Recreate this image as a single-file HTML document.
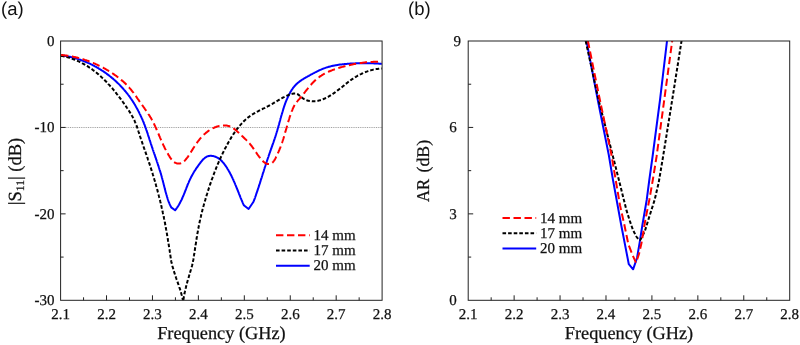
<!DOCTYPE html>
<html><head><meta charset="utf-8"><style>
html,body{margin:0;padding:0;background:#fff;}
body{width:800px;height:345px;overflow:hidden;}
svg{display:block;will-change:transform;text-rendering:geometricPrecision;}
.t{font-family:"Liberation Serif",serif;fill:#111;stroke:#111;stroke-width:0.25px;}
.s{font-family:"Liberation Sans",sans-serif;fill:#111;}
</style></head><body>
<svg width="800" height="345" viewBox="0 0 800 345">
<defs>
<clipPath id="ca"><rect x="60.6" y="41" width="321.5" height="259.3"/></clipPath>
<clipPath id="cb"><rect x="468.2" y="41" width="321.5" height="259.3"/></clipPath>
</defs>
<text class="s" x="1" y="15" font-size="18.5">(a)</text>
<text class="s" x="408" y="15" font-size="18.5">(b)</text>
<line x1="61" y1="127.5" x2="382.1" y2="127.5" stroke="#a2a2a2" stroke-width="1" stroke-dasharray="1 0.8"/>
<g clip-path="url(#ca)" fill="none" stroke-width="2" stroke-linejoin="round">
<path d="M61.0,55.3 61.7,55.4 62.4,55.5 63.1,55.6 63.8,55.7 64.5,55.8 65.2,55.9 65.9,56.0 66.6,56.1 67.3,56.3 68.0,56.4 68.6,56.6 69.3,56.7 70.0,56.8 70.7,57.0 71.4,57.2 72.1,57.3 72.8,57.5 73.4,57.7 74.1,57.9 74.8,58.1 75.5,58.2 76.1,58.4 76.8,58.7 77.5,58.9 78.2,59.1 78.8,59.3 79.5,59.5 80.2,59.7 80.8,60.0 81.5,60.2 82.1,60.5 82.8,60.7 83.5,61.0 84.1,61.2 84.8,61.5 85.4,61.7 86.1,62.0 86.7,62.3 87.4,62.6 88.0,62.9 88.6,63.1 89.3,63.4 89.9,63.7 90.6,64.0 91.2,64.4 91.8,64.7 92.5,65.0 93.1,65.3 93.7,65.6 94.3,66.0 94.9,66.3 95.6,66.6 96.2,67.0 96.8,67.3 97.4,67.7 98.0,68.0 98.6,68.4 99.2,68.8 99.8,69.1 100.4,69.5 101.0,69.9 101.6,70.3 102.2,70.6 102.8,71.0 103.4,71.4 104.0,71.8 104.5,72.2 105.1,72.6 105.7,73.0 106.3,73.4 106.8,73.9 107.4,74.3 108.0,74.7 108.5,75.1 109.1,75.6 109.6,76.0 110.2,76.4 110.7,76.9 111.3,77.3 111.8,77.8 112.4,78.2 112.9,78.7 113.5,79.1 114.0,79.6 114.5,80.1 115.0,80.5 115.6,81.0 116.1,81.5 116.6,82.0 117.1,82.5 117.6,83.0 118.1,83.4 118.6,83.9 119.1,84.4 119.6,84.9 120.1,85.4 120.6,86.0 121.1,86.5 121.6,87.0 122.0,87.5 122.5,88.0 123.0,88.5 123.5,89.1 123.9,89.6 124.4,90.1 124.8,90.7 125.3,91.2 125.7,91.7 126.2,92.3 126.6,92.8 127.1,93.4 127.5,93.9 127.9,94.5 128.3,95.0 128.8,95.6 129.2,96.2 129.6,96.7 130.0,97.3 130.4,97.9 130.8,98.5 131.2,99.0 131.6,99.6 132.0,100.2 132.4,100.8 132.8,101.4 133.1,101.9 133.5,102.5 133.9,103.1 134.3,103.7 134.6,104.3 135.0,104.9 135.3,105.5 135.7,106.1 136.0,106.7 136.4,107.4 136.7,108.0 137.1,108.6 137.4,109.2 137.7,109.8 138.1,110.4 138.4,111.1 138.7,111.7 139.0,112.3 139.3,112.9 139.6,113.6 139.9,114.2 140.3,114.8 140.5,115.5 140.8,116.1 141.1,116.7 141.4,117.4 141.7,118.0 142.0,118.7 142.3,119.3 142.6,119.9 142.8,120.6 143.1,121.2 143.4,121.9 143.6,122.5 143.9,123.2 144.1,123.8 144.4,124.5 144.7,125.2 144.9,125.8 145.1,126.5 145.4,127.1 145.6,127.8 145.9,128.5 146.1,129.1 146.3,129.8 146.6,130.5 146.8,131.1 147.0,131.8 147.2,132.5 147.5,133.1 147.7,133.8 147.9,134.5 148.1,135.1 148.3,135.8 148.5,136.5 148.8,137.1 149.0,137.8 149.2,138.5 149.4,139.2 149.6,139.8 149.8,140.5 150.1,141.2 150.3,141.8 150.5,142.5 150.7,143.2 150.9,143.8 151.1,144.5 151.4,145.2 151.6,145.8 151.8,146.5 152.0,147.2 152.3,147.8 152.5,148.5 152.7,149.2 152.9,149.8 153.2,150.5 153.4,151.2 153.6,151.8 153.9,152.5 154.1,153.2 154.3,153.8 154.5,154.5 154.8,155.2 155.0,155.8 155.2,156.5 155.4,157.2 155.7,157.8 155.9,158.5 156.1,159.2 156.4,159.8 156.6,160.5 156.8,161.2 157.0,161.8 157.3,162.5 157.5,163.2 157.7,163.8 157.9,164.5 158.1,165.2 158.4,165.8 158.6,166.5 158.8,167.2 159.0,167.8 159.2,168.5 159.4,169.2 159.6,169.8 159.8,170.5 160.1,171.2 160.3,171.9 160.5,172.5 160.7,173.2 160.9,173.9 161.1,174.5 161.3,175.2 161.5,175.9 161.7,176.6 161.8,177.2 162.0,177.9 162.2,178.6 162.4,179.3 162.6,180.0 162.8,180.6 162.9,181.3 163.1,182.0 163.3,182.7 163.5,183.4 163.6,184.1 163.8,184.7 164.0,185.4 164.1,186.1 164.3,186.8 164.5,187.5 164.7,188.2 164.8,188.8 165.0,189.5 165.2,190.2 165.4,190.9 165.5,191.6 165.7,192.2 165.9,192.9 166.1,193.6 166.3,194.3 166.5,194.9 166.7,195.6 166.9,196.3 167.1,197.0 167.3,197.6 167.5,198.3 167.7,199.0 167.9,199.6 168.2,200.3 168.4,201.0 168.6,201.6 168.9,202.3 169.2,202.9 169.4,203.6 169.7,204.2 170.0,204.9 170.3,205.5 170.6,206.1 170.9,206.8 171.2,207.4 175.1,210.3 175.5,209.7 176.0,209.2 176.4,208.6 176.8,208.0 177.2,207.5 177.6,206.9 178.0,206.3 178.4,205.7 178.7,205.1 179.1,204.5 179.4,203.9 179.8,203.3 180.1,202.6 180.4,202.0 180.7,201.4 181.1,200.8 181.4,200.1 181.7,199.5 182.0,198.8 182.3,198.2 182.5,197.6 182.8,196.9 183.1,196.3 183.4,195.6 183.7,194.9 183.9,194.3 184.2,193.6 184.5,193.0 184.7,192.3 185.0,191.7 185.2,191.0 185.5,190.3 185.8,189.7 186.0,189.0 186.3,188.3 186.5,187.7 186.8,187.0 187.1,186.4 187.3,185.7 187.6,185.0 187.8,184.4 188.1,183.7 188.4,183.1 188.7,182.4 188.9,181.8 189.2,181.1 189.5,180.5 189.8,179.9 190.1,179.2 190.4,178.6 190.7,178.0 191.0,177.3 191.3,176.7 191.7,176.1 192.0,175.5 192.3,174.9 192.7,174.2 193.0,173.6 193.4,173.0 193.7,172.4 194.1,171.8 194.4,171.2 194.8,170.6 195.2,170.1 195.6,169.5 196.0,168.9 196.3,168.3 196.7,167.7 197.2,167.2 197.6,166.6 198.0,166.0 198.4,165.4 198.8,164.9 199.2,164.3 199.7,163.7 200.1,163.1 200.6,162.5 201.0,161.9 201.5,161.3 202.0,160.7 202.5,160.2 202.9,159.6 203.5,159.1 204.0,158.6 204.5,158.2 205.0,157.7 205.6,157.4 206.2,157.0 206.8,156.7 207.4,156.4 208.0,156.2 208.6,156.0 209.3,155.9 210.0,155.8 210.6,155.8 211.3,155.8 212.0,155.9 212.7,156.0 213.4,156.1 214.0,156.3 214.7,156.5 215.4,156.7 216.0,157.0 216.7,157.3 217.3,157.6 217.9,157.9 218.5,158.3 219.1,158.7 219.6,159.1 220.2,159.6 220.7,160.0 221.2,160.5 221.7,161.0 222.2,161.5 222.7,162.1 223.2,162.6 223.6,163.2 224.1,163.7 224.5,164.3 224.9,164.9 225.4,165.5 225.8,166.1 226.2,166.7 226.6,167.3 227.0,167.9 227.4,168.6 227.7,169.2 228.1,169.8 228.5,170.4 228.8,171.0 229.2,171.6 229.5,172.3 229.9,172.9 230.2,173.5 230.5,174.1 230.8,174.8 231.2,175.4 231.5,176.0 231.8,176.7 232.1,177.3 232.4,177.9 232.7,178.6 233.0,179.2 233.3,179.8 233.6,180.5 233.8,181.1 234.1,181.7 234.4,182.4 234.7,183.0 235.0,183.7 235.2,184.3 235.5,185.0 235.8,185.6 236.0,186.3 236.3,186.9 236.5,187.5 236.8,188.2 237.1,188.8 237.3,189.5 237.6,190.1 237.8,190.8 238.1,191.4 238.4,192.1 238.6,192.7 238.9,193.4 239.1,194.1 239.4,194.7 239.7,195.4 239.9,196.0 240.2,196.7 240.4,197.3 240.7,198.0 241.0,198.6 241.3,199.3 241.5,199.9 241.8,200.6 242.1,201.3 242.4,201.9 242.6,202.6 242.9,203.2 243.2,203.9 243.5,204.5 243.8,205.2 248.6,209.0 253.5,201.8 253.7,201.1 254.0,200.5 254.2,199.8 254.5,199.2 254.7,198.5 255.0,197.8 255.2,197.2 255.4,196.5 255.7,195.9 255.9,195.2 256.1,194.5 256.3,193.9 256.6,193.2 256.8,192.5 257.0,191.9 257.3,191.2 257.5,190.5 257.7,189.9 257.9,189.2 258.1,188.5 258.4,187.9 258.6,187.2 258.8,186.5 259.0,185.9 259.2,185.2 259.4,184.5 259.7,183.9 259.9,183.2 260.1,182.5 260.3,181.9 260.5,181.2 260.7,180.5 260.9,179.8 261.1,179.2 261.4,178.5 261.6,177.8 261.8,177.2 262.0,176.5 262.2,175.8 262.4,175.2 262.6,174.5 262.8,173.8 263.0,173.1 263.2,172.5 263.5,171.8 263.7,171.1 263.9,170.5 264.1,169.8 264.3,169.1 264.5,168.5 264.7,167.8 264.9,167.1 265.2,166.4 265.4,165.8 265.6,165.1 265.8,164.4 266.0,163.8 266.2,163.1 266.5,162.4 266.7,161.8 266.9,161.1 267.1,160.4 267.4,159.8 267.6,159.1 267.8,158.4 268.0,157.8 268.3,157.1 268.5,156.5 268.7,155.8 268.9,155.1 269.2,154.5 269.4,153.8 269.6,153.1 269.9,152.5 270.1,151.8 270.3,151.2 270.6,150.5 270.8,149.8 271.0,149.2 271.3,148.5 271.5,147.9 271.7,147.2 272.0,146.5 272.2,145.9 272.4,145.2 272.7,144.5 272.9,143.9 273.1,143.2 273.4,142.6 273.6,141.9 273.8,141.2 274.0,140.6 274.3,139.9 274.5,139.2 274.7,138.6 274.9,137.9 275.2,137.2 275.4,136.6 275.6,135.9 275.8,135.2 276.0,134.6 276.2,133.9 276.4,133.2 276.6,132.6 276.8,131.9 277.1,131.2 277.3,130.5 277.4,129.9 277.6,129.2 277.8,128.5 278.0,127.8 278.2,127.2 278.4,126.5 278.6,125.8 278.8,125.1 279.0,124.5 279.2,123.8 279.3,123.1 279.5,122.4 279.7,121.7 279.9,121.1 280.1,120.4 280.3,119.7 280.4,119.0 280.6,118.3 280.8,117.7 281.0,117.0 281.2,116.3 281.4,115.6 281.6,114.9 281.8,114.3 282.0,113.6 282.2,112.9 282.4,112.2 282.6,111.6 282.8,110.9 283.0,110.2 283.2,109.5 283.4,108.9 283.6,108.2 283.8,107.5 284.0,106.9 284.3,106.2 284.5,105.5 284.7,104.9 285.0,104.2 285.2,103.5 285.4,102.9 285.7,102.2 285.9,101.6 286.2,100.9 286.5,100.3 286.7,99.6 287.0,99.0 287.3,98.3 287.6,97.7 287.9,97.0 288.2,96.4 288.5,95.8 288.8,95.1 289.1,94.5 289.4,93.9 289.8,93.2 290.1,92.6 290.4,92.0 290.8,91.4 291.2,90.8 291.5,90.2 291.9,89.6 292.3,89.1 292.7,88.5 293.1,87.9 293.5,87.4 294.0,86.8 294.4,86.3 294.9,85.8 295.3,85.3 295.8,84.8 296.3,84.3 296.8,83.8 297.3,83.4 297.8,82.9 298.3,82.5 298.9,82.1 299.4,81.6 299.9,81.2 300.5,80.8 301.1,80.4 301.6,80.0 302.2,79.6 302.8,79.3 303.4,78.9 304.0,78.5 304.6,78.2 305.2,77.8 305.8,77.5 306.4,77.1 307.0,76.8 307.7,76.4 308.3,76.1 308.9,75.8 309.5,75.4 310.1,75.1 310.8,74.7 311.4,74.4 312.0,74.1 312.6,73.7 313.3,73.4 313.9,73.1 314.5,72.7 315.2,72.4 315.8,72.1 316.4,71.8 317.0,71.5 317.7,71.1 318.3,70.8 318.9,70.5 319.6,70.2 320.2,69.9 320.9,69.7 321.5,69.4 322.1,69.1 322.8,68.8 323.4,68.6 324.1,68.3 324.8,68.1 325.4,67.9 326.1,67.6 326.7,67.4 327.4,67.2 328.1,67.0 328.7,66.8 329.4,66.7 330.1,66.5 330.8,66.3 331.4,66.1 332.1,66.0 332.8,65.8 333.5,65.7 334.2,65.5 334.8,65.4 335.5,65.3 336.2,65.2 336.9,65.1 337.6,64.9 338.3,64.8 339.0,64.7 339.7,64.6 340.4,64.5 341.1,64.5 341.8,64.4 342.5,64.3 343.2,64.2 343.9,64.2 344.6,64.1 345.3,64.0 346.0,64.0 346.7,63.9 347.4,63.8 348.1,63.8 348.8,63.7 349.5,63.7 350.2,63.6 350.9,63.6 351.6,63.6 352.3,63.5 353.0,63.5 353.7,63.4 354.4,63.4 355.1,63.4 355.8,63.3 356.5,63.3 357.2,63.3 357.9,63.3 358.6,63.3 359.4,63.2 360.1,63.2 360.8,63.2 361.5,63.2 362.2,63.2 362.9,63.2 363.6,63.2 364.3,63.2 365.0,63.2 365.7,63.2 366.4,63.2 367.1,63.2 367.8,63.2 368.5,63.2 369.2,63.2 369.9,63.2 370.6,63.2 371.3,63.3 372.0,63.3 372.7,63.3 373.4,63.3 374.1,63.4 374.8,63.4 375.5,63.4 376.2,63.5 376.9,63.5 377.6,63.6 378.3,63.6 379.0,63.7 379.7,63.7 380.4,63.8 381.1,63.8 381.8,63.9" stroke="#0000ff"/>
<path d="M61.0,55.8 61.7,55.9 62.4,56.1 63.2,56.2 63.9,56.4 64.6,56.5 65.3,56.7 66.0,56.9 66.7,57.1 67.4,57.2 68.1,57.4 68.8,57.6 69.4,57.8 70.1,58.1 70.8,58.3 71.5,58.5 72.1,58.7 72.8,59.0 73.5,59.2 74.1,59.5 74.8,59.7 75.4,60.0 76.1,60.3 76.7,60.5 77.4,60.8 78.0,61.1 78.6,61.4 79.3,61.7 79.9,62.0 80.5,62.3 81.2,62.6 81.8,62.9 82.4,63.3 83.0,63.6 83.6,63.9 84.2,64.3 84.8,64.6 85.4,65.0 86.0,65.3 86.6,65.7 87.2,66.0 87.8,66.4 88.4,66.8 88.9,67.2 89.5,67.6 90.1,67.9 90.7,68.3 91.2,68.7 91.8,69.1 92.4,69.5 92.9,70.0 93.5,70.4 94.0,70.8 94.6,71.2 95.1,71.6 95.7,72.1 96.2,72.5 96.8,73.0 97.3,73.4 97.8,73.9 98.4,74.3 98.9,74.8 99.4,75.2 99.9,75.7 100.5,76.2 101.0,76.6 101.5,77.1 102.0,77.6 102.5,78.1 103.0,78.5 103.5,79.0 104.0,79.5 104.5,80.0 105.0,80.5 105.5,81.0 106.0,81.5 106.5,82.0 107.0,82.5 107.5,83.0 108.0,83.5 108.4,84.1 108.9,84.6 109.4,85.1 109.9,85.6 110.3,86.2 110.8,86.7 111.3,87.2 111.7,87.8 112.2,88.3 112.7,88.8 113.1,89.4 113.6,89.9 114.0,90.5 114.5,91.0 114.9,91.6 115.4,92.1 115.8,92.7 116.3,93.2 116.7,93.8 117.1,94.3 117.6,94.9 118.0,95.4 118.4,96.0 118.9,96.6 119.3,97.1 119.7,97.7 120.2,98.3 120.6,98.8 121.0,99.4 121.4,100.0 121.8,100.5 122.3,101.1 122.7,101.7 123.1,102.3 123.5,102.8 123.9,103.4 124.3,104.0 124.7,104.6 125.1,105.1 125.5,105.7 125.9,106.3 126.3,106.9 126.7,107.5 127.1,108.0 127.5,108.6 127.9,109.2 128.3,109.8 128.7,110.4 129.0,110.9 129.4,111.5 129.8,112.1 130.2,112.7 130.5,113.3 130.9,113.9 131.2,114.5 131.6,115.1 131.9,115.7 132.3,116.3 132.6,116.9 132.9,117.5 133.3,118.1 133.6,118.8 133.9,119.4 134.2,120.0 134.5,120.6 134.8,121.3 135.0,121.9 135.3,122.6 135.6,123.2 135.8,123.9 136.1,124.5 136.3,125.2 136.6,125.8 136.8,126.5 137.1,127.2 137.3,127.8 137.5,128.5 137.7,129.2 138.0,129.8 138.2,130.5 138.4,131.2 138.6,131.8 138.9,132.5 139.1,133.2 139.3,133.9 139.5,134.5 139.7,135.2 139.9,135.9 140.1,136.6 140.4,137.2 140.6,137.9 140.8,138.6 141.0,139.2 141.3,139.9 141.5,140.6 141.7,141.2 141.9,141.9 142.2,142.6 142.4,143.2 142.6,143.9 142.8,144.6 143.1,145.2 143.3,145.9 143.5,146.6 143.8,147.2 144.0,147.9 144.2,148.6 144.5,149.2 144.7,149.9 144.9,150.6 145.2,151.2 145.4,151.9 145.6,152.5 145.8,153.2 146.1,153.9 146.3,154.5 146.5,155.2 146.8,155.9 147.0,156.5 147.2,157.2 147.5,157.9 147.7,158.5 147.9,159.2 148.1,159.8 148.4,160.5 148.6,161.2 148.8,161.8 149.0,162.5 149.2,163.2 149.5,163.8 149.7,164.5 149.9,165.2 150.1,165.9 150.3,166.5 150.6,167.2 150.8,167.9 151.0,168.5 151.2,169.2 151.4,169.9 151.6,170.5 151.8,171.2 152.0,171.9 152.3,172.6 152.5,173.2 152.7,173.9 152.9,174.6 153.1,175.2 153.3,175.9 153.5,176.6 153.7,177.3 153.9,177.9 154.1,178.6 154.3,179.3 154.5,180.0 154.7,180.6 154.9,181.3 155.1,182.0 155.3,182.7 155.5,183.3 155.7,184.0 155.9,184.7 156.1,185.4 156.2,186.0 156.4,186.7 156.6,187.4 156.8,188.1 157.0,188.8 157.2,189.4 157.4,190.1 157.5,190.8 157.7,191.5 157.9,192.2 158.1,192.8 158.3,193.5 158.4,194.2 158.6,194.9 158.8,195.6 159.0,196.2 159.1,196.9 159.3,197.6 159.5,198.3 159.7,199.0 159.8,199.7 160.0,200.3 160.2,201.0 160.3,201.7 160.5,202.4 160.7,203.1 160.8,203.8 161.0,204.4 161.2,205.1 161.3,205.8 161.5,206.5 161.6,207.2 161.8,207.9 161.9,208.6 162.1,209.2 162.2,209.9 162.4,210.6 162.5,211.3 162.7,212.0 162.8,212.7 163.0,213.4 163.1,214.0 163.3,214.7 163.4,215.4 163.6,216.1 163.7,216.8 163.9,217.5 164.0,218.2 164.1,218.9 164.3,219.6 164.4,220.2 164.5,220.9 164.7,221.6 164.8,222.3 165.0,223.0 165.1,223.7 165.2,224.4 165.3,225.1 165.5,225.8 165.6,226.5 165.7,227.2 165.9,227.9 166.0,228.5 166.1,229.2 166.2,229.9 166.4,230.6 166.5,231.3 166.6,232.0 166.7,232.7 166.9,233.4 167.0,234.1 167.1,234.8 167.2,235.5 167.3,236.2 167.4,236.9 167.6,237.6 167.7,238.2 167.8,238.9 167.9,239.6 168.0,240.3 168.1,241.0 168.3,241.7 168.4,242.4 168.5,243.1 168.6,243.8 168.7,244.5 168.8,245.2 168.9,245.9 169.0,246.6 169.1,247.3 169.2,248.0 169.3,248.7 169.5,249.4 169.6,250.1 169.7,250.8 169.8,251.5 169.9,252.1 170.0,252.8 170.1,253.5 170.2,254.2 170.3,254.9 170.4,255.6 170.5,256.3 170.6,257.0 170.7,257.7 170.8,258.4 170.9,259.1 171.0,259.8 171.1,260.5 171.2,261.2 171.4,261.9 171.5,262.6 171.7,263.3 171.9,264.0 172.0,264.7 172.2,265.4 172.4,266.1 172.6,266.7 172.8,267.4 173.0,268.1 173.2,268.8 173.4,269.5 173.6,270.2 173.8,270.9 174.0,271.5 174.2,272.2 174.4,272.9 174.7,273.6 174.9,274.2 175.1,274.9 175.3,275.6 175.6,276.3 175.8,276.9 176.0,277.6 176.3,278.3 176.5,279.0 176.7,279.6 177.0,280.3 177.2,281.0 177.4,281.7 177.7,282.3 177.9,283.0 178.1,283.7 178.4,284.4 178.6,285.0 178.8,285.7 179.1,286.4 179.3,287.1 179.5,287.7 179.7,288.4 180.0,289.1 180.2,289.8 180.4,290.5 180.6,291.1 180.8,291.8 181.0,292.5 181.2,293.2 181.4,293.9 181.6,294.6 181.8,295.2 182.0,295.9 182.1,296.6 182.3,297.3 182.5,298.0 182.6,298.7 182.8,299.4 182.9,300.1 183.1,300.8 183.2,301.5 183.3,300.8 183.4,300.1 183.5,299.4 183.6,298.7 183.7,298.0 183.8,297.3 183.9,296.6 184.1,295.9 184.2,295.2 184.3,294.5 184.5,293.8 184.6,293.1 184.7,292.4 184.9,291.7 185.0,291.0 185.2,290.3 185.4,289.6 185.5,288.9 185.7,288.2 185.9,287.5 186.0,286.8 186.2,286.1 186.4,285.4 186.6,284.7 186.8,284.1 186.9,283.4 187.1,282.7 187.3,282.0 187.5,281.3 187.7,280.6 187.9,279.9 188.1,279.2 188.3,278.6 188.5,277.9 188.7,277.2 188.9,276.5 189.1,275.8 189.3,275.1 189.5,274.4 189.7,273.8 189.9,273.1 190.1,272.4 190.3,271.7 190.5,271.0 190.7,270.3 190.9,269.7 191.1,269.0 191.3,268.3 191.5,267.6 191.7,266.9 191.9,266.2 192.1,265.5 192.2,264.9 192.4,264.2 192.6,263.5 192.8,262.8 192.9,262.1 193.0,261.4 193.1,260.7 193.3,260.0 193.4,259.3 193.5,258.6 193.6,257.9 193.7,257.2 193.8,256.5 193.9,255.8 194.0,255.2 194.1,254.5 194.3,253.8 194.4,253.1 194.5,252.4 194.6,251.7 194.7,251.0 194.8,250.3 194.9,249.6 195.0,248.9 195.1,248.2 195.2,247.5 195.3,246.8 195.4,246.1 195.5,245.4 195.6,244.7 195.8,244.1 195.9,243.4 196.0,242.7 196.1,242.0 196.2,241.3 196.3,240.6 196.4,239.9 196.5,239.2 196.6,238.5 196.7,237.8 196.8,237.1 197.0,236.4 197.1,235.7 197.2,235.1 197.3,234.4 197.4,233.7 197.5,233.0 197.7,232.3 197.8,231.6 197.9,230.9 198.0,230.2 198.2,229.5 198.3,228.8 198.4,228.2 198.5,227.5 198.7,226.8 198.8,226.1 198.9,225.4 199.1,224.7 199.2,224.0 199.4,223.3 199.5,222.6 199.6,222.0 199.8,221.3 199.9,220.6 200.1,219.9 200.2,219.2 200.4,218.5 200.5,217.8 200.7,217.2 200.9,216.5 201.0,215.8 201.2,215.1 201.3,214.4 201.5,213.7 201.7,213.1 201.8,212.4 202.0,211.7 202.2,211.0 202.4,210.3 202.5,209.6 202.7,209.0 202.9,208.3 203.1,207.6 203.3,206.9 203.4,206.2 203.6,205.6 203.8,204.9 204.0,204.2 204.2,203.5 204.4,202.8 204.6,202.2 204.8,201.5 205.0,200.8 205.2,200.1 205.4,199.5 205.6,198.8 205.8,198.1 206.0,197.4 206.2,196.8 206.4,196.1 206.6,195.4 206.8,194.7 207.0,194.1 207.2,193.4 207.4,192.7 207.6,192.1 207.9,191.4 208.1,190.7 208.3,190.0 208.5,189.4 208.7,188.7 208.9,188.0 209.2,187.4 209.4,186.7 209.6,186.0 209.8,185.4 210.0,184.7 210.3,184.0 210.5,183.4 210.7,182.7 211.0,182.0 211.2,181.4 211.4,180.7 211.6,180.1 211.9,179.4 212.1,178.7 212.4,178.1 212.6,177.4 212.8,176.8 213.1,176.1 213.3,175.5 213.6,174.8 213.8,174.1 214.0,173.5 214.3,172.8 214.5,172.2 214.8,171.5 215.1,170.9 215.3,170.2 215.6,169.6 215.8,168.9 216.1,168.3 216.3,167.6 216.6,167.0 216.9,166.3 217.1,165.7 217.4,165.0 217.7,164.4 217.9,163.7 218.2,163.1 218.5,162.5 218.8,161.8 219.1,161.2 219.3,160.5 219.6,159.9 219.9,159.3 220.2,158.6 220.5,158.0 220.8,157.3 221.1,156.7 221.4,156.1 221.7,155.4 222.0,154.8 222.3,154.2 222.6,153.5 222.9,152.9 223.2,152.3 223.5,151.7 223.8,151.0 224.1,150.4 224.5,149.8 224.8,149.1 225.1,148.5 225.4,147.9 225.8,147.3 226.1,146.7 226.4,146.0 226.7,145.4 227.1,144.8 227.4,144.2 227.8,143.6 228.1,142.9 228.5,142.3 228.8,141.7 229.2,141.1 229.5,140.5 229.9,139.9 230.2,139.3 230.6,138.7 231.0,138.1 231.3,137.4 231.7,136.8 232.1,136.2 232.5,135.6 232.9,135.0 233.2,134.5 233.6,133.9 234.0,133.3 234.4,132.7 234.8,132.1 235.2,131.5 235.6,131.0 236.1,130.4 236.5,129.8 236.9,129.2 237.3,128.7 237.8,128.1 238.2,127.6 238.6,127.0 239.1,126.5 239.5,125.9 240.0,125.4 240.4,124.9 240.9,124.4 241.4,123.8 241.8,123.3 242.3,122.8 242.8,122.3 243.3,121.8 243.8,121.3 244.3,120.8 244.8,120.4 245.3,119.9 245.8,119.4 246.3,119.0 246.9,118.5 247.4,118.1 247.9,117.6 248.5,117.2 249.0,116.8 249.6,116.4 250.1,116.0 250.7,115.6 251.3,115.2 251.9,114.8 252.5,114.4 253.1,114.0 253.6,113.7 254.2,113.3 254.9,113.0 255.5,112.6 256.1,112.3 256.7,111.9 257.3,111.6 257.9,111.3 258.6,110.9 259.2,110.6 259.8,110.3 260.5,110.0 261.1,109.7 261.7,109.3 262.4,109.0 263.0,108.7 263.6,108.4 264.3,108.1 264.9,107.8 265.5,107.4 266.2,107.1 266.8,106.8 267.4,106.5 268.1,106.2 268.7,105.8 269.3,105.5 269.9,105.2 270.6,104.8 271.2,104.5 271.8,104.1 272.4,103.8 273.0,103.4 273.6,103.1 274.2,102.7 274.8,102.4 275.4,102.0 276.0,101.6 276.6,101.3 277.2,100.9 277.8,100.6 278.4,100.2 279.0,99.8 279.6,99.5 280.2,99.1 280.8,98.8 281.4,98.4 282.0,98.1 282.6,97.8 283.2,97.4 283.9,97.1 284.5,96.8 285.1,96.5 285.7,96.2 286.4,95.9 287.0,95.6 287.7,95.3 288.3,95.0 289.0,94.8 289.6,94.5 290.3,94.3 291.0,94.1 291.6,93.9 292.3,93.8 293.0,93.7 293.7,93.6 294.3,93.6 295.0,93.6 295.6,93.6 296.3,93.8 296.9,94.0 297.5,94.2 298.2,94.5 298.7,94.9 299.3,95.4 299.9,95.9 300.5,96.4 301.1,96.9 301.7,97.4 302.3,97.8 302.9,98.3 303.5,98.7 304.1,99.1 304.8,99.4 305.4,99.7 306.1,100.0 306.7,100.2 307.4,100.5 308.1,100.7 308.7,100.8 309.4,101.0 310.1,101.1 310.8,101.2 311.4,101.2 312.1,101.3 312.8,101.3 313.5,101.3 314.1,101.3 314.8,101.2 315.5,101.2 316.2,101.1 316.8,101.0 317.5,100.9 318.2,100.7 318.9,100.6 319.5,100.4 320.2,100.2 320.9,100.0 321.5,99.8 322.2,99.5 322.8,99.3 323.5,99.0 324.1,98.8 324.8,98.5 325.4,98.2 326.1,97.9 326.7,97.5 327.3,97.2 328.0,96.9 328.6,96.5 329.2,96.2 329.8,95.8 330.4,95.4 331.0,95.0 331.6,94.7 332.2,94.3 332.8,93.9 333.4,93.5 334.0,93.1 334.6,92.7 335.2,92.2 335.7,91.8 336.3,91.4 336.9,91.0 337.4,90.6 338.0,90.1 338.6,89.7 339.1,89.3 339.7,88.8 340.2,88.4 340.8,88.0 341.3,87.5 341.9,87.1 342.4,86.7 343.0,86.2 343.5,85.8 344.1,85.4 344.6,84.9 345.1,84.5 345.7,84.0 346.2,83.6 346.8,83.2 347.3,82.8 347.9,82.3 348.4,81.9 349.0,81.5 349.6,81.1 350.1,80.7 350.7,80.2 351.2,79.8 351.8,79.4 352.4,79.0 353.0,78.7 353.5,78.3 354.1,77.9 354.7,77.5 355.3,77.1 355.9,76.8 356.5,76.4 357.1,76.1 357.7,75.7 358.3,75.4 359.0,75.0 359.6,74.7 360.2,74.4 360.9,74.1 361.5,73.8 362.1,73.5 362.8,73.2 363.4,72.9 364.1,72.6 364.7,72.4 365.4,72.1 366.1,71.8 366.7,71.6 367.4,71.4 368.1,71.1 368.7,70.9 369.4,70.7 370.1,70.5 370.8,70.3 371.4,70.1 372.1,69.9 372.8,69.8 373.5,69.6 374.2,69.5 374.9,69.3 375.6,69.2 376.2,69.1 376.9,69.0 377.6,68.9 378.3,68.8 379.0,68.7 379.7,68.6 380.4,68.6 381.1,68.5 381.8,68.5" stroke="#000000" stroke-dasharray="3.6 2"/>
<path d="M61.0,55.0 61.7,55.1 62.4,55.1 63.1,55.2 63.8,55.3 64.5,55.3 65.2,55.4 65.9,55.5 66.6,55.6 67.3,55.7 68.0,55.8 68.7,55.9 69.4,56.0 70.1,56.1 70.7,56.2 71.4,56.4 72.1,56.5 72.8,56.6 73.5,56.8 74.2,56.9 74.9,57.1 75.6,57.2 76.2,57.4 76.9,57.5 77.6,57.7 78.3,57.9 79.0,58.1 79.6,58.3 80.3,58.4 81.0,58.6 81.7,58.8 82.3,59.0 83.0,59.2 83.7,59.4 84.4,59.7 85.0,59.9 85.7,60.1 86.4,60.3 87.0,60.6 87.7,60.8 88.3,61.0 89.0,61.3 89.7,61.5 90.3,61.8 91.0,62.0 91.6,62.3 92.3,62.6 92.9,62.8 93.6,63.1 94.2,63.4 94.9,63.7 95.5,64.0 96.2,64.3 96.8,64.6 97.4,64.8 98.1,65.2 98.7,65.5 99.3,65.8 100.0,66.1 100.6,66.4 101.2,66.7 101.8,67.0 102.5,67.4 103.1,67.7 103.7,68.0 104.3,68.4 104.9,68.7 105.6,69.1 106.2,69.4 106.8,69.8 107.4,70.1 108.0,70.5 108.6,70.9 109.2,71.2 109.8,71.6 110.4,72.0 111.0,72.4 111.6,72.7 112.1,73.1 112.7,73.5 113.3,73.9 113.9,74.3 114.5,74.7 115.0,75.1 115.6,75.5 116.2,75.9 116.7,76.3 117.3,76.7 117.9,77.2 118.4,77.6 119.0,78.0 119.5,78.4 120.1,78.9 120.6,79.3 121.1,79.8 121.7,80.2 122.2,80.7 122.7,81.1 123.3,81.6 123.8,82.1 124.3,82.5 124.8,83.0 125.3,83.5 125.8,84.0 126.3,84.5 126.8,85.0 127.3,85.5 127.8,86.0 128.2,86.5 128.7,87.0 129.2,87.5 129.6,88.1 130.1,88.6 130.6,89.1 131.0,89.7 131.4,90.2 131.9,90.8 132.3,91.3 132.7,91.9 133.2,92.4 133.6,93.0 134.0,93.6 134.4,94.1 134.8,94.7 135.3,95.3 135.7,95.9 136.1,96.4 136.5,97.0 136.9,97.6 137.3,98.2 137.7,98.8 138.1,99.3 138.5,99.9 138.9,100.5 139.3,101.1 139.7,101.7 140.1,102.2 140.5,102.8 140.9,103.4 141.4,103.9 141.8,104.5 142.2,105.1 142.6,105.6 143.0,106.2 143.4,106.8 143.8,107.4 144.2,107.9 144.6,108.5 145.0,109.1 145.4,109.6 145.8,110.2 146.2,110.8 146.6,111.3 147.0,111.9 147.4,112.5 147.8,113.1 148.2,113.6 148.5,114.2 148.9,114.8 149.3,115.4 149.7,116.0 150.0,116.6 150.4,117.2 150.8,117.8 151.1,118.4 151.5,119.0 151.8,119.6 152.1,120.2 152.5,120.9 152.8,121.5 153.1,122.1 153.4,122.7 153.8,123.4 154.1,124.0 154.4,124.7 154.7,125.3 155.0,125.9 155.3,126.6 155.6,127.2 155.9,127.9 156.2,128.5 156.4,129.2 156.7,129.8 157.0,130.5 157.3,131.1 157.6,131.8 157.8,132.4 158.1,133.1 158.4,133.7 158.7,134.4 158.9,135.0 159.2,135.7 159.5,136.3 159.8,136.9 160.0,137.6 160.3,138.2 160.6,138.9 160.9,139.5 161.1,140.1 161.4,140.8 161.7,141.4 162.0,142.0 162.3,142.6 162.5,143.3 162.8,143.9 163.1,144.5 163.4,145.2 163.7,145.8 164.0,146.4 164.3,147.0 164.6,147.7 164.9,148.3 165.2,148.9 165.6,149.6 165.9,150.2 166.2,150.8 166.6,151.4 166.9,152.1 167.2,152.7 167.6,153.3 168.0,153.9 168.3,154.6 168.7,155.2 169.1,155.8 169.5,156.5 169.8,157.1 170.2,157.7 170.7,158.3 171.1,158.9 171.5,159.5 172.0,160.1 172.5,160.6 172.9,161.1 173.5,161.5 174.0,162.0 174.5,162.3 175.1,162.7 175.7,162.9 176.3,163.2 176.9,163.4 177.6,163.5 178.2,163.5 178.9,163.6 179.5,163.5 180.1,163.4 180.7,163.3 181.3,163.0 181.9,162.8 182.5,162.4 183.1,162.0 183.6,161.6 184.2,161.2 184.7,160.7 185.2,160.1 185.7,159.6 186.2,159.0 186.6,158.4 187.1,157.9 187.5,157.3 188.0,156.6 188.4,156.0 188.8,155.4 189.2,154.8 189.6,154.2 190.0,153.7 190.3,153.1 190.7,152.5 191.1,151.9 191.4,151.3 191.8,150.7 192.2,150.1 192.5,149.5 192.9,148.9 193.2,148.4 193.6,147.8 194.0,147.2 194.3,146.6 194.7,146.0 195.1,145.5 195.5,144.9 195.9,144.3 196.3,143.7 196.7,143.2 197.1,142.6 197.5,142.0 197.9,141.4 198.4,140.9 198.8,140.3 199.2,139.8 199.7,139.2 200.1,138.7 200.6,138.1 201.1,137.6 201.6,137.1 202.0,136.6 202.5,136.0 203.0,135.5 203.5,135.0 204.0,134.5 204.6,134.1 205.1,133.6 205.6,133.1 206.2,132.7 206.7,132.2 207.3,131.8 207.8,131.4 208.4,130.9 209.0,130.5 209.6,130.1 210.2,129.8 210.8,129.4 211.4,129.0 212.0,128.7 212.6,128.4 213.2,128.1 213.9,127.8 214.5,127.5 215.2,127.2 215.9,127.0 216.5,126.7 217.2,126.5 217.9,126.3 218.5,126.1 219.2,125.9 219.9,125.8 220.6,125.7 221.3,125.6 222.0,125.5 222.6,125.4 223.3,125.4 224.0,125.4 224.7,125.4 225.4,125.5 226.0,125.5 226.7,125.6 227.4,125.7 228.0,125.9 228.7,126.0 229.3,126.2 230.0,126.5 230.6,126.7 231.2,127.0 231.8,127.3 232.4,127.7 233.0,128.0 233.6,128.4 234.2,128.9 234.8,129.3 235.3,129.7 235.9,130.2 236.5,130.7 237.0,131.2 237.6,131.7 238.1,132.2 238.7,132.7 239.2,133.2 239.7,133.7 240.3,134.2 240.8,134.7 241.3,135.2 241.8,135.7 242.4,136.2 242.9,136.7 243.4,137.2 243.9,137.7 244.4,138.2 244.9,138.7 245.4,139.1 245.9,139.6 246.4,140.1 246.9,140.6 247.4,141.1 247.9,141.6 248.3,142.1 248.8,142.6 249.2,143.1 249.7,143.6 250.1,144.1 250.5,144.6 250.9,145.2 251.4,145.7 251.8,146.2 252.2,146.8 252.6,147.3 253.0,147.9 253.3,148.4 253.7,149.0 254.1,149.6 254.5,150.1 254.9,150.7 255.3,151.3 255.7,151.9 256.1,152.4 256.5,153.0 256.9,153.6 257.3,154.2 257.7,154.8 258.2,155.4 258.6,156.0 259.0,156.6 259.5,157.2 260.0,157.8 260.4,158.4 260.9,159.0 261.4,159.6 261.9,160.2 262.5,160.7 263.0,161.2 263.5,161.7 264.1,162.2 264.7,162.6 265.2,163.0 265.8,163.3 266.4,163.6 267.0,163.8 267.6,164.0 268.2,164.1 268.8,164.1 269.4,164.1 269.9,164.0 270.5,163.9 271.0,163.6 271.5,163.3 272.0,163.0 272.5,162.6 272.9,162.1 273.4,161.6 273.8,161.0 274.2,160.5 274.6,159.9 275.0,159.2 275.3,158.6 275.7,157.9 276.0,157.2 276.4,156.6 276.7,155.9 277.0,155.2 277.3,154.5 277.6,153.9 277.9,153.2 278.2,152.5 278.5,151.9 278.8,151.2 279.1,150.5 279.4,149.9 279.6,149.2 279.9,148.5 280.2,147.9 280.4,147.2 280.7,146.6 280.9,145.9 281.1,145.3 281.4,144.6 281.6,143.9 281.8,143.3 282.1,142.6 282.3,142.0 282.5,141.3 282.7,140.7 282.9,140.0 283.2,139.3 283.4,138.7 283.6,138.0 283.8,137.4 284.0,136.7 284.2,136.0 284.4,135.4 284.6,134.7 284.8,134.0 285.0,133.4 285.1,132.7 285.3,132.0 285.5,131.4 285.7,130.7 285.9,130.0 286.1,129.4 286.3,128.7 286.5,128.0 286.7,127.3 286.9,126.6 287.1,126.0 287.3,125.3 287.4,124.6 287.6,123.9 287.8,123.2 288.0,122.5 288.2,121.9 288.4,121.2 288.6,120.5 288.9,119.8 289.1,119.1 289.3,118.5 289.5,117.8 289.7,117.1 289.9,116.4 290.2,115.8 290.4,115.1 290.6,114.4 290.8,113.8 291.1,113.1 291.3,112.4 291.6,111.8 291.8,111.1 292.1,110.5 292.4,109.8 292.6,109.2 292.9,108.5 293.2,107.9 293.5,107.3 293.8,106.6 294.1,106.0 294.4,105.4 294.8,104.8 295.2,104.2 295.5,103.7 295.9,103.1 296.3,102.6 296.8,102.0 297.2,101.5 297.6,101.0 298.1,100.4 298.5,99.9 299.0,99.4 299.5,98.8 299.9,98.3 300.4,97.8 300.8,97.2 301.3,96.7 301.7,96.1 302.2,95.6 302.6,95.0 303.0,94.5 303.5,93.9 303.9,93.4 304.4,92.8 304.8,92.3 305.2,91.7 305.7,91.1 306.1,90.6 306.6,90.0 307.0,89.5 307.5,88.9 307.9,88.4 308.4,87.8 308.8,87.3 309.3,86.7 309.7,86.2 310.2,85.6 310.6,85.1 311.1,84.6 311.6,84.0 312.0,83.5 312.5,83.0 313.0,82.5 313.5,82.0 314.0,81.5 314.5,81.0 315.0,80.5 315.5,80.1 316.0,79.6 316.5,79.2 317.1,78.7 317.6,78.3 318.1,77.8 318.7,77.4 319.3,77.0 319.8,76.6 320.4,76.2 321.0,75.8 321.5,75.5 322.1,75.1 322.7,74.7 323.3,74.4 323.9,74.0 324.5,73.7 325.1,73.4 325.8,73.0 326.4,72.7 327.0,72.4 327.6,72.1 328.3,71.8 328.9,71.5 329.6,71.3 330.2,71.0 330.9,70.7 331.5,70.5 332.2,70.2 332.8,69.9 333.5,69.7 334.2,69.5 334.8,69.2 335.5,69.0 336.2,68.8 336.8,68.5 337.5,68.3 338.2,68.1 338.9,67.9 339.5,67.7 340.2,67.5 340.9,67.3 341.6,67.1 342.3,66.9 343.0,66.7 343.6,66.5 344.3,66.4 345.0,66.2 345.7,66.0 346.4,65.8 347.1,65.7 347.7,65.5 348.4,65.3 349.1,65.2 349.8,65.0 350.5,64.9 351.2,64.7 351.9,64.6 352.5,64.4 353.2,64.3 353.9,64.1 354.6,64.0 355.3,63.9 356.0,63.7 356.7,63.6 357.3,63.5 358.0,63.4 358.7,63.3 359.4,63.2 360.1,63.1 360.8,63.0 361.5,62.9 362.2,62.8 362.9,62.7 363.6,62.6 364.2,62.5 364.9,62.4 365.6,62.3 366.3,62.3 367.0,62.2 367.7,62.2 368.4,62.1 369.1,62.0 369.8,62.0 370.5,62.0 371.2,61.9 371.9,61.9 372.6,61.9 373.3,61.8 374.0,61.8 374.7,61.8 375.4,61.8 376.1,61.8 376.8,61.8 377.5,61.8 378.2,61.8 379.0,61.8 379.7,61.8 380.4,61.8 381.1,61.9 381.8,61.9" stroke="#ff0000" stroke-dasharray="7.4 3.6"/>
</g>
<rect x="60.6" y="41.0" width="321.5" height="259.3" fill="none" stroke="#222" stroke-width="1"/>
<text class="t" x="60.60" y="319" font-size="15" text-anchor="middle">2.1</text>
<line x1="83.56" y1="300.3" x2="83.56" y2="297.3" stroke="#222" stroke-width="1"/>
<line x1="106.53" y1="300.3" x2="106.53" y2="295.3" stroke="#222" stroke-width="1"/>
<text class="t" x="106.53" y="319" font-size="15" text-anchor="middle">2.2</text>
<line x1="129.50" y1="300.3" x2="129.50" y2="297.3" stroke="#222" stroke-width="1"/>
<line x1="152.46" y1="300.3" x2="152.46" y2="295.3" stroke="#222" stroke-width="1"/>
<text class="t" x="152.46" y="319" font-size="15" text-anchor="middle">2.3</text>
<line x1="175.43" y1="300.3" x2="175.43" y2="297.3" stroke="#222" stroke-width="1"/>
<line x1="198.39" y1="300.3" x2="198.39" y2="295.3" stroke="#222" stroke-width="1"/>
<text class="t" x="198.39" y="319" font-size="15" text-anchor="middle">2.4</text>
<line x1="221.35" y1="300.3" x2="221.35" y2="297.3" stroke="#222" stroke-width="1"/>
<line x1="244.32" y1="300.3" x2="244.32" y2="295.3" stroke="#222" stroke-width="1"/>
<text class="t" x="244.32" y="319" font-size="15" text-anchor="middle">2.5</text>
<line x1="267.29" y1="300.3" x2="267.29" y2="297.3" stroke="#222" stroke-width="1"/>
<line x1="290.25" y1="300.3" x2="290.25" y2="295.3" stroke="#222" stroke-width="1"/>
<text class="t" x="290.25" y="319" font-size="15" text-anchor="middle">2.6</text>
<line x1="313.22" y1="300.3" x2="313.22" y2="297.3" stroke="#222" stroke-width="1"/>
<line x1="336.18" y1="300.3" x2="336.18" y2="295.3" stroke="#222" stroke-width="1"/>
<text class="t" x="336.18" y="319" font-size="15" text-anchor="middle">2.7</text>
<line x1="359.15" y1="300.3" x2="359.15" y2="297.3" stroke="#222" stroke-width="1"/>
<text class="t" x="382.11" y="319" font-size="15" text-anchor="middle">2.8</text>
<text class="t" x="54.6" y="46.00" font-size="15" text-anchor="end">0</text>
<line x1="60.6" y1="84.22" x2="63.6" y2="84.22" stroke="#222" stroke-width="1"/>
<line x1="60.6" y1="127.43" x2="65.6" y2="127.43" stroke="#222" stroke-width="1"/>
<text class="t" x="54.6" y="132.43" font-size="15" text-anchor="end">-10</text>
<line x1="60.6" y1="170.65" x2="63.6" y2="170.65" stroke="#222" stroke-width="1"/>
<line x1="60.6" y1="213.87" x2="65.6" y2="213.87" stroke="#222" stroke-width="1"/>
<text class="t" x="54.6" y="218.87" font-size="15" text-anchor="end">-20</text>
<line x1="60.6" y1="257.08" x2="63.6" y2="257.08" stroke="#222" stroke-width="1"/>
<text class="t" x="54.6" y="305.30" font-size="15" text-anchor="end">-30</text>
<text class="t" x="221.4" y="339" font-size="18.3" text-anchor="middle">Frequency (GHz)</text>
<text class="t" transform="translate(21.0,171.5) rotate(-90)" font-size="18.5" text-anchor="middle">|S<tspan font-size="11.5" dy="2.5">11</tspan><tspan dy="-2.5">| (dB)</tspan></text>
<line x1="276.0" y1="235.3" x2="309.7" y2="235.3" stroke="#ff0000" stroke-width="2" stroke-dasharray="7.4 3.6"/>
<text class="t" x="313.5" y="239.8" font-size="15">14 mm</text>
<line x1="276.0" y1="250.5" x2="309.7" y2="250.5" stroke="#000000" stroke-width="2" stroke-dasharray="3.6 2"/>
<text class="t" x="313.5" y="255.0" font-size="15">17 mm</text>
<line x1="276.0" y1="265.7" x2="309.7" y2="265.7" stroke="#0000ff" stroke-width="2"/>
<text class="t" x="313.5" y="270.2" font-size="15">20 mm</text>
<g clip-path="url(#cb)" fill="none" stroke-width="2" stroke-linejoin="round">
<path d="M584.4,30.0 597.8,100.0 608.8,155.0 613.0,180.0 621.2,225.0 628.8,264.2 633.1,269.3 637.0,258.0 639.6,243.0 642.4,225.0 646.7,200.0 649.3,180.0 652.5,157.0 660.0,100.0 667.0,41.0 668.4,30.0" stroke="#0000ff"/>
<path d="M583.5,30.0 585.7,41.0 598.6,100.0 612.6,155.0 618.9,180.0 623.9,200.0 626.5,210.4 629.8,220.9 633.0,230.0 636.3,236.5 638.9,239.8 640.2,240.0 641.5,237.8 644.8,231.3 648.0,220.9 651.3,210.4 654.6,200.0 658.7,182.6 663.0,157.0 672.5,98.0 681.5,41.0 683.2,30.0" stroke="#000000" stroke-dasharray="3.6 2"/>
<path d="M585.7,30.0 587.9,41.0 599.9,100.0 611.5,155.0 615.7,180.0 620.0,205.2 624.2,224.0 628.3,244.0 632.5,255.0 636.0,262.7 639.0,254.0 641.5,243.0 645.4,219.6 649.3,200.0 652.8,180.0 656.5,157.0 664.5,98.0 672.2,41.0 673.7,30.0" stroke="#ff0000" stroke-dasharray="7.4 3.6"/>
</g>
<rect x="468.2" y="41.0" width="321.5" height="259.3" fill="none" stroke="#222" stroke-width="1"/>
<text class="t" x="468.20" y="319" font-size="15" text-anchor="middle">2.1</text>
<line x1="491.16" y1="300.3" x2="491.16" y2="297.3" stroke="#222" stroke-width="1"/>
<line x1="514.13" y1="300.3" x2="514.13" y2="295.3" stroke="#222" stroke-width="1"/>
<text class="t" x="514.13" y="319" font-size="15" text-anchor="middle">2.2</text>
<line x1="537.10" y1="300.3" x2="537.10" y2="297.3" stroke="#222" stroke-width="1"/>
<line x1="560.06" y1="300.3" x2="560.06" y2="295.3" stroke="#222" stroke-width="1"/>
<text class="t" x="560.06" y="319" font-size="15" text-anchor="middle">2.3</text>
<line x1="583.02" y1="300.3" x2="583.02" y2="297.3" stroke="#222" stroke-width="1"/>
<line x1="605.99" y1="300.3" x2="605.99" y2="295.3" stroke="#222" stroke-width="1"/>
<text class="t" x="605.99" y="319" font-size="15" text-anchor="middle">2.4</text>
<line x1="628.95" y1="300.3" x2="628.95" y2="297.3" stroke="#222" stroke-width="1"/>
<line x1="651.92" y1="300.3" x2="651.92" y2="295.3" stroke="#222" stroke-width="1"/>
<text class="t" x="651.92" y="319" font-size="15" text-anchor="middle">2.5</text>
<line x1="674.88" y1="300.3" x2="674.88" y2="297.3" stroke="#222" stroke-width="1"/>
<line x1="697.85" y1="300.3" x2="697.85" y2="295.3" stroke="#222" stroke-width="1"/>
<text class="t" x="697.85" y="319" font-size="15" text-anchor="middle">2.6</text>
<line x1="720.82" y1="300.3" x2="720.82" y2="297.3" stroke="#222" stroke-width="1"/>
<line x1="743.78" y1="300.3" x2="743.78" y2="295.3" stroke="#222" stroke-width="1"/>
<text class="t" x="743.78" y="319" font-size="15" text-anchor="middle">2.7</text>
<line x1="766.75" y1="300.3" x2="766.75" y2="297.3" stroke="#222" stroke-width="1"/>
<text class="t" x="789.71" y="319" font-size="15" text-anchor="middle">2.8</text>
<text class="t" x="456.7" y="305.30" font-size="15" text-anchor="end">0</text>
<line x1="468.2" y1="257.08" x2="471.2" y2="257.08" stroke="#222" stroke-width="1"/>
<line x1="468.2" y1="213.87" x2="473.2" y2="213.87" stroke="#222" stroke-width="1"/>
<text class="t" x="456.7" y="218.87" font-size="15" text-anchor="end">3</text>
<line x1="468.2" y1="170.65" x2="471.2" y2="170.65" stroke="#222" stroke-width="1"/>
<line x1="468.2" y1="127.43" x2="473.2" y2="127.43" stroke="#222" stroke-width="1"/>
<text class="t" x="456.7" y="132.43" font-size="15" text-anchor="end">6</text>
<line x1="468.2" y1="84.22" x2="471.2" y2="84.22" stroke="#222" stroke-width="1"/>
<text class="t" x="461.0" y="46.00" font-size="15" text-anchor="end">9</text>
<text class="t" x="629.0" y="339" font-size="18.3" text-anchor="middle">Frequency (GHz)</text>
<text class="t" transform="translate(428.5,202) rotate(-90)" font-size="18" textLength="23" lengthAdjust="spacingAndGlyphs">AR</text>
<text class="t" transform="translate(428.5,172.5) rotate(-90)" font-size="17.8">(dB)</text>
<line x1="502.5" y1="218.1" x2="536.2" y2="218.1" stroke="#ff0000" stroke-width="2" stroke-dasharray="7.4 3.6"/>
<text class="t" x="540.0" y="222.6" font-size="15">14 mm</text>
<line x1="502.5" y1="233.3" x2="536.2" y2="233.3" stroke="#000000" stroke-width="2" stroke-dasharray="3.6 2"/>
<text class="t" x="540.0" y="237.8" font-size="15">17 mm</text>
<line x1="502.5" y1="248.5" x2="536.2" y2="248.5" stroke="#0000ff" stroke-width="2"/>
<text class="t" x="540.0" y="253.0" font-size="15">20 mm</text>
</svg>
</body></html>
